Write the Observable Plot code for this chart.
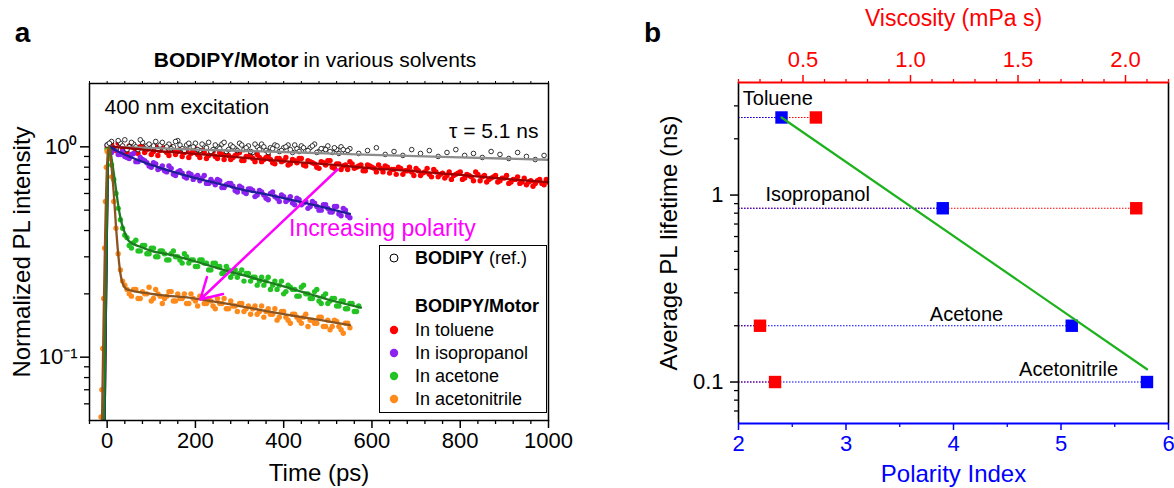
<!DOCTYPE html>
<html><head><meta charset="utf-8">
<script src="https://cdn.jsdelivr.net/npm/d3@7"></script>
<script src="https://cdn.jsdelivr.net/npm/@observablehq/plot@0.6"></script>
<style>
body{margin:0;background:#fff;}
#wrap{position:relative;width:1174px;height:488px;overflow:hidden;font-family:"Liberation Sans",Arial,Helvetica,sans-serif;background:#fff;}
.lg{position:absolute;white-space:nowrap;font-size:18px;line-height:1;transform:translateY(-50%);color:#000;}
</style></head><body><div id="wrap"></div>
<script>
const FONT = '"Liberation Sans", Arial, Helvetica, sans-serif';

// ---------- Panel a data ----------
const timeGrid = [0,10,20,30,40,50,60,70,80,90,100,110,120,130,140,150,160,170,180,190,200,210,220,230,240,250,260,270,280,290,300,310,320,330,340,350,360,370,380,390,400,410,420,430,440,450,460,470,480,490,500,510,520,530,540,550,560,570,580,590,600,610,620,630,640,650,660,670,680,690,700,710,720,730,740,750,760,770,780,790,800,810,820,830,840,850,860,870,880,890,900,910,920,930,940,950,960,970,980,990,1000];
const timeGridHalf = [5,15,25,35,45,55,65,75,85,95,105,115,125,135,145,155,165,175,185,195,205,215,225,235,245,255,265,275,285,295,305,315,325,335,345,355,365,375,385,395,405,415,425,435,445,455,465,475,485,495,505,515,525,535,545,555,565,575,585,595,605,615,625,635,645,655,665,675,685,695,705,715,725,735,745,755,765,775,785,795,805,815,825,835,845,855,865,875,885,895,905,915,925,935,945,955,965,975,985,995];

const tolueneI = [0.99,1.03,0.96,1.02,0.95,1.01,0.99,0.93,1.00,0.97,
 0.92,1.00,0.96,0.99,0.91,0.97,0.95,0.90,0.96,0.93,
 0.98,0.89,0.94,0.91,0.95,0.88,0.92,0.93,0.87,0.91,
 0.94,0.86,0.90,0.88,0.92,0.85,0.89,0.87,0.83,0.88,
 0.86,0.82,0.87,0.84,0.88,0.81,0.85,0.83,0.79,0.84,
 0.86,0.80,0.83,0.78,0.82,0.85,0.79,0.81,0.77,0.82,
 0.80,0.76,0.79,0.81,0.75,0.78,0.80,0.74,0.77,0.76,
 0.79,0.73,0.76,0.74,0.78,0.72,0.75,0.73,0.70,0.74,
 0.76,0.71,0.73,0.69,0.74,0.72,0.68,0.71,0.73,0.69,
 0.71,0.67,0.70,0.72,0.68,0.66,0.69,0.67,0.70,0.66,0.68];
const tolueneI2 = [1.01,0.97,1.04,0.98,0.94,1.02,0.96,1.00,0.94,0.99,
 0.95,0.91,0.98,0.94,1.00,0.92,0.97,0.94,0.89,0.95,
 0.92,0.96,0.88,0.93,0.90,0.94,0.87,0.91,0.89,0.93,
 0.86,0.90,0.92,0.85,0.89,0.87,0.91,0.84,0.88,0.85,
 0.89,0.83,0.86,0.88,0.82,0.86,0.84,0.80,0.85,0.82,
 0.86,0.79,0.83,0.81,0.78,0.83,0.80,0.82,0.77,0.81,
 0.79,0.82,0.76,0.80,0.78,0.74,0.79,0.77,0.80,0.73,
 0.77,0.75,0.79,0.72,0.76,0.74,0.71,0.76,0.73,0.75,
 0.70,0.74,0.72,0.76,0.69,0.73,0.70,0.72,0.68,0.71,
 0.73,0.68,0.70,0.67,0.71,0.68,0.65,0.69,0.67,0.70];
const isopropanolI = [1.02,0.94,0.98,0.92,0.90,0.88,0.93,0.85,0.87,0.84,
 0.80,0.83,0.79,0.77,0.81,0.74,0.76,0.75,0.71,0.74,
 0.72,0.69,0.73,0.67,0.68,0.70,0.64,0.66,0.67,0.62,
 0.65,0.61,0.63,0.62,0.59,0.61,0.57,0.60,0.58,0.55,
 0.58,0.56,0.54,0.57,0.53,0.55,0.52,0.54,0.50,0.53,
 0.51,0.49,0.52,0.47,0.50,0.46];
const isopropanolI2 = [0.99,0.97,0.92,0.95,0.89,0.92,0.85,0.89,0.86,0.81,
 0.84,0.78,0.81,0.76,0.79,0.73,0.77,0.72,0.75,0.70,
 0.73,0.71,0.67,0.70,0.66,0.69,0.64,0.67,0.65,0.61,
 0.64,0.60,0.63,0.58,0.62,0.59,0.56,0.61,0.57,0.59,
 0.55,0.58,0.53,0.56,0.54,0.51,0.55,0.52,0.50,0.53,
 0.49,0.52,0.48,0.51,0.47];
const earlyTime = [0,5,10,15,20,25,30,35,40,45,50];
const acetoneEarlyI = [0.97,0.92,0.82,0.70,0.60,0.51,0.45,0.41,0.38,0.37,0.34];
const acetoneI = [0.35,0.32,0.34,0.31,0.33,0.30,0.32,0.31,0.29,0.32,
 0.30,0.28,0.30,0.29,0.27,0.29,0.28,0.26,0.28,0.27,
 0.25,0.27,0.24,0.26,0.25,0.23,0.25,0.24,0.22,0.24,
 0.23,0.21,0.23,0.22,0.20,0.22,0.21,0.195,0.215,0.20,
 0.19,0.205,0.185,0.195,0.18,0.19,0.175,0.185,0.17,0.18,
 0.165,0.175];
const acetoneI2 = [0.33,0.36,0.32,0.34,0.31,0.33,0.30,0.32,0.29,0.31,
 0.30,0.29,0.31,0.28,0.29,0.27,0.29,0.28,0.26,0.28,
 0.27,0.25,0.26,0.25,0.24,0.26,0.25,0.23,0.24,0.23,
 0.22,0.24,0.22,0.21,0.23,0.205,0.215,0.21,0.195,0.22,
 0.20,0.19,0.21,0.18,0.20,0.185,0.19,0.175,0.185,0.17,
 0.18,0.165];
const acetonitrileEarlyI = [0.95,0.88,0.72,0.55,0.41,0.31,0.26,0.23,0.22,0.21,0.20];
const acetonitrileI = [0.21,0.19,0.205,0.20,0.185,0.21,0.195,0.19,0.205,0.185,
 0.20,0.19,0.18,0.20,0.185,0.195,0.18,0.19,0.175,0.19,
 0.18,0.17,0.185,0.175,0.18,0.165,0.175,0.17,0.16,0.175,
 0.165,0.16,0.17,0.155,0.165,0.15,0.16,0.155,0.145,0.16,
 0.15,0.145,0.155,0.14,0.15,0.14,0.148,0.135,0.145,0.138];
const acetonitrileI2 = [0.195,0.21,0.19,0.20,0.215,0.19,0.20,0.18,0.195,0.205,
 0.185,0.19,0.20,0.18,0.19,0.175,0.195,0.18,0.185,0.17,
 0.18,0.19,0.17,0.175,0.165,0.18,0.17,0.16,0.175,0.165,
 0.155,0.17,0.16,0.15,0.165,0.155,0.145,0.16,0.15,0.155,
 0.14,0.15,0.145,0.155,0.14,0.135,0.15,0.14,0.13,0.145];
const risingTime = [-14,-12,-10,-8,-6,-4,-2];
const acetonitrileRisingI = [0.052,0.07,0.11,0.19,0.33,0.55,0.8];
const bodipyI = [1.02,1.06,0.98,1.04,1.08,1.00,1.03,0.97,1.05,1.01,
 0.99,1.06,1.02,0.96,1.03,1.00,1.07,0.98,1.02,0.99,
 1.04,0.96,1.01,1.05,0.97,1.00,1.03,0.95,1.02,0.98,
 1.04,0.97,1.01,0.94,1.00,1.03,0.96,0.99,1.02,0.95,
 0.99,1.02,0.94,0.98,1.01,0.96,0.99,1.03,0.95,0.98,
 1.01,0.94,0.97,1.00,0.95,0.98];
const bodipyI2 = [1.04,0.99,1.07,1.01,0.97,1.05,1.00,1.08,0.98,1.03,
 1.01,0.97,1.05,1.00,0.98,1.06,1.02,0.96,1.04,1.00,
 0.97,1.03,0.99,0.95,1.02,0.98,1.05,0.97,1.00,0.96,
 1.02,0.99,0.95,1.03,0.97,1.00,0.94,0.98,1.01,0.96,
 1.00,0.97,1.02,0.95,0.99,0.96,1.01,0.94,0.98,0.97,
 0.95,0.99,0.93,0.97,0.96];
const bodipyLateTime = [570,590,610,630,650,670,690,710,730,750,770,790,810,830,850,870,890,910,930,950,970,990];
const bodipyLateI = [0.93,0.96,0.99,0.92,0.95,0.91,0.97,0.93,0.96,0.90,0.94,0.97,0.91,0.93,0.89,0.95,0.92,0.88,0.94,0.90,0.87,0.91];

// fitted curves
const fitBodipyT = [-6,5,200,400,600,800,1000];
const fitBodipyI = [0.045,1.0,0.97,0.945,0.915,0.89,0.868];
const fitTolueneT = [-6,5,100,200,300,400,500,600,700,800,900,1000];
const fitTolueneI = [0.045,1.0,0.96,0.925,0.89,0.855,0.825,0.79,0.765,0.735,0.705,0.68];
const fitIsoT = [-6,5,25,50,100,150,200,250,300,350,400,450,500,550];
const fitIsoI = [0.045,1.0,0.95,0.9,0.82,0.76,0.71,0.67,0.63,0.6,0.57,0.54,0.51,0.48];
const fitAcetoneT = [-7,5,10,15,20,25,30,40,50,75,100,150,200,250,300,350,400,450,500,575];
const fitAcetoneI = [0.045,1.0,0.88,0.75,0.63,0.53,0.46,0.39,0.355,0.335,0.32,0.305,0.285,0.265,0.248,0.232,0.217,0.202,0.188,0.172];
const fitAcnT = [-12,3,10,15,20,25,30,35,45,100,200,300,400,500,550];
const fitAcnI = [0.045,1.0,0.8,0.6,0.42,0.31,0.25,0.225,0.21,0.2,0.19,0.175,0.16,0.148,0.142];

const timeTicks = [0,200,400,600,800,1000];
const timeMinor = [-40,40,80,120,160,240,280,320,360,440,480,520,560,640,680,720,760,840,880,920,960];
const intensityTicks = [0.1, 1];
const intensityMinor = [0.06,0.07,0.08,0.09,0.2,0.3,0.4,0.5,0.6,0.7,0.8,0.9];
const timeDomain = [-40, 1000];
const intensityDomain = [0.05, 2];
const arrowFrom = [522, 0.78];
const arrowTo = [211, 0.188];
const polarityTextPos = [412, 0.41];

// ---------- Panel b data ----------
const solvents = ["Toluene","Isopropanol","Acetone","Acetonitrile"];
const polarityIndex = [2.4, 3.9, 5.1, 5.8];
const viscosity = [0.56, 2.05, 0.30, 0.37];
const lifetimeNs = [2.6, 0.85, 0.20, 0.10];
const labelPolarity = [2.04, 2.25, 3.78, 4.61];
const labelLifetime = [3.3, 1.0, 0.23, 0.116];
const fitPolarity = [2.4, 5.8];
const fitLifetime = [2.6, 0.117];
const polarityDomain = [2, 6];
const viscDomain = [0.2, 2.2];
const lifetimeDomain = [0.06, 4];
const polarityTicks = [2,3,4,5,6];
const polarityMinor = [2.5,3.5,4.5,5.5];
const viscTicks = [0.5,1.0,1.5,2.0];
const viscMinor = [0.2,0.3,0.4,0.6,0.7,0.8,0.9,1.1,1.2,1.3,1.4,1.6,1.7,1.8,1.9,2.1,2.2];
const lifetimeTicks = [0.1, 1];
const lifetimeMinor = [0.07,0.08,0.09,0.2,0.3,0.4,0.5,0.6,0.7,0.8,0.9,2,3];

// colours
const RED="#FF0000", PURPLE="#8B22F0", GREEN="#22C322", ORANGE="#FF8A1C", BLUE="#0000FF", MAGENTA="#FF00FF";
const FIT_RED="#9A0000", FIT_BLUE="#1E1E96", FIT_GREEN="#1E7A1E", FIT_BROWN="#8A5420", FIT_GRAY="#8C8C8C";

const rows = (ts, vs) => ts.map((t, i) => ({t, v: vs[i]}));
const toluene = rows(timeGrid.concat(timeGridHalf), tolueneI.concat(tolueneI2));
const isopropanol = rows(timeGrid.slice(0, 56).concat(timeGridHalf.slice(0, 55)), isopropanolI.concat(isopropanolI2));
const acetone = rows(earlyTime.concat(timeGrid.slice(6, 58), timeGridHalf.slice(5, 57)), acetoneEarlyI.concat(acetoneI, acetoneI2));
const acetonitrile = rows(risingTime.concat(earlyTime, timeGrid.slice(6, 56), timeGridHalf.slice(5, 55)),
  acetonitrileRisingI.concat(acetonitrileEarlyI, acetonitrileI, acetonitrileI2));
const bodipy = rows(timeGrid.slice(0, 56).concat(timeGridHalf.slice(0, 55), bodipyLateTime), bodipyI.concat(bodipyI2, bodipyLateI));

const wrap = document.getElementById("wrap");

const dotOpt = c => ({x: "t", y: "v", r: 2.7, fill: c, clip: true});
const fitOpt = c => ({x: "t", y: "v", stroke: c, strokeWidth: 2.3, curve: "monotone-x", clip: true});
const lab = (txt, o) => Plot.text([txt], Object.assign({text: d => d, lineAnchor: "middle", fill: "black"}, o));

const plotA = Plot.plot({
  width: 580, height: 488,
  marginLeft: 89, marginRight: 32, marginTop: 83, marginBottom: 68,
  x: {domain: timeDomain},
  y: {type: "log", domain: intensityDomain},
  style: {fontFamily: FONT, background: "transparent", overflow: "visible", color: "black"},
  marks: [
    Plot.dot(toluene, dotOpt(RED)),
    Plot.dot(isopropanol, dotOpt(PURPLE)),
    Plot.dot(acetone, dotOpt(GREEN)),
    Plot.dot(acetonitrile, dotOpt(ORANGE)),
    Plot.dot(bodipy, {x: "t", y: "v", r: 2.3, fill: "white", stroke: "black", strokeWidth: 0.8, clip: true}),
    Plot.line(rows(fitBodipyT, fitBodipyI), fitOpt(FIT_GRAY)),
    Plot.line(rows(fitTolueneT, fitTolueneI), fitOpt(FIT_RED)),
    Plot.line(rows(fitIsoT, fitIsoI), fitOpt(FIT_BLUE)),
    Plot.line(rows(fitAcetoneT, fitAcetoneI), fitOpt(FIT_GREEN)),
    Plot.line(rows(fitAcnT, fitAcnI), fitOpt(FIT_BROWN)),
    Plot.arrow([{x1: arrowFrom[0], y1: arrowFrom[1], x2: arrowTo[0], y2: arrowTo[1]}],
      {x1: "x1", y1: "y1", x2: "x2", y2: "y2", stroke: MAGENTA, strokeWidth: 2.5, headLength: 14}),
    Plot.text([{t: polarityTextPos[0], v: polarityTextPos[1], s: "Increasing polarity"}],
      {x: "t", y: "v", text: "s", fill: MAGENTA, fontSize: 23, textAnchor: "start", lineAnchor: "middle"}),
    Plot.frame({stroke: "black", strokeWidth: 1.5}),
    Plot.axisX({ticks: timeTicks, tickSize: 8, tickPadding: 4, fontSize: 22, strokeWidth: 1.5, label: null, tickFormat: d => String(d)}),
    Plot.axisX({ticks: timeMinor, tickSize: 4, strokeWidth: 1.3, label: null, tickFormat: () => ""}),
    Plot.axisX({anchor: "top", ticks: timeTicks.concat(timeMinor), tickSize: 3, strokeWidth: 1, label: null, tickFormat: () => ""}),
    Plot.axisY({ticks: intensityTicks, tickSize: 9, tickPadding: 3, fontSize: 22, strokeWidth: 1.5, label: null, tickFormat: d => d === 1 ? "10\u2070" : "10\u207B\u00B9"}),
    Plot.axisY({ticks: intensityMinor, tickSize: 5, strokeWidth: 1.3, label: null, tickFormat: () => ""}),
    lab("400 nm excitation", {frameAnchor: "top-left", dx: 15, dy: 24, fontSize: 21, textAnchor: "start"}),
    lab("\u03C4 = 5.1 ns", {frameAnchor: "top-right", dx: -10, dy: 48, fontSize: 21, textAnchor: "end"}),
    lab("BODIPY/Motor", {frameAnchor: "top-left", dx: 209, dy: -23, fontSize: 21, fontWeight: "bold", textAnchor: "end"}),
    lab("in various solvents", {frameAnchor: "top-left", dx: 214, dy: -23, fontSize: 21, textAnchor: "start"}),
    lab("a", {frameAnchor: "top-left", dx: -67, dy: -50, fontSize: 28, fontWeight: "bold", textAnchor: "middle"}),
    lab("Time (ps)", {frameAnchor: "bottom", dy: 53, fontSize: 24, textAnchor: "middle"}),
    lab("Normalized PL intensity", {frameAnchor: "left", dx: -67, fontSize: 24, textAnchor: "middle", rotate: -90})
  ]
});
plotA.style.position = "absolute"; plotA.style.left = "0px"; plotA.style.top = "0px";
wrap.appendChild(plotA);

// legend (panel a)
const legend = document.createElement("div");
legend.style.cssText = "position:absolute;left:379px;top:245px;width:168px;height:168px;border:1.3px solid #000;background:#fff;box-sizing:border-box;";
wrap.appendChild(legend);
function legItem(y, html, marker) {
  if (marker) {
    const s = document.createElementNS("http://www.w3.org/2000/svg", "svg");
    s.setAttribute("width", 12); s.setAttribute("height", 12);
    s.style.cssText = `position:absolute;left:${379+15-6}px;top:${y-6}px;overflow:visible`;
    const c = document.createElementNS("http://www.w3.org/2000/svg", "circle");
    c.setAttribute("cx", 6); c.setAttribute("cy", 6); c.setAttribute("r", marker.r);
    c.setAttribute("fill", marker.fill); c.setAttribute("stroke", marker.stroke || "none");
    c.setAttribute("stroke-width", marker.sw || 0);
    s.appendChild(c); wrap.appendChild(s);
  }
  const d = document.createElement("div");
  d.className = "lg"; d.style.left = "415px"; d.style.top = y + "px"; d.innerHTML = html;
  wrap.appendChild(d);
}
const legendLabels = ["In toluene", "In isopropanol", "In acetone", "In acetonitrile"];
const legendColors = [RED, PURPLE, GREEN, ORANGE];
legItem(258, "<b>BODIPY</b> (ref.)", {r: 4, fill: "white", stroke: "black", sw: 1});
legItem(306, "<b>BODIPY/Motor</b>", null);
legendLabels.forEach((l, i) => legItem(330 + i * 23, l, {r: 4.2, fill: legendColors[i]}));

// ---------- Panel b ----------
const viscToX = v => polarityDomain[0] + (v - viscDomain[0]) * (polarityDomain[1] - polarityDomain[0]) / (viscDomain[1] - viscDomain[0]);
const solv = solvents.map((name, i) => ({name, pi: polarityIndex[i], visc: viscosity[i], life: lifetimeNs[i], lx: labelPolarity[i], ly: labelLifetime[i]}));
const fitRows = fitPolarity.map((p, i) => ({p, l: fitLifetime[i]}));

const plotB = Plot.plot({
  width: 584, height: 488,
  marginLeft: 148, marginRight: 6, marginTop: 82, marginBottom: 65,
  x: {domain: polarityDomain},
  y: {type: "log", domain: lifetimeDomain},
  style: {fontFamily: FONT, background: "transparent", overflow: "visible", color: "black"},
  marks: [
    Plot.ruleY(solv, {y: "life", x1: () => polarityDomain[0], x2: d => viscToX(d.visc), stroke: RED, strokeWidth: 1.2, strokeDasharray: "1.5,1.5"}),
    Plot.ruleY(solv, {y: "life", x1: () => polarityDomain[0], x2: "pi", stroke: BLUE, strokeWidth: 1.2, strokeDasharray: "1.5,1.5"}),
    Plot.dot(solv, {x: d => viscToX(d.visc), y: "life", symbol: "square", r: 7, fill: RED}),
    Plot.dot(solv, {x: "pi", y: "life", symbol: "square", r: 7, fill: BLUE}),
    Plot.line(fitRows, {x: "p", y: "l", stroke: "#1DB21D", strokeWidth: 2.2}),
    Plot.text(solv, {x: "lx", y: "ly", text: "name", fontSize: 20, textAnchor: "start", lineAnchor: "middle", fill: "black"}),
    Plot.ruleX([polarityDomain[0]], {stroke: "black", strokeWidth: 1.6}),
    Plot.ruleX([polarityDomain[1]], {stroke: "black", strokeWidth: 1.6}),
    Plot.ruleY([lifetimeDomain[0]], {stroke: BLUE, strokeWidth: 1.8}),
    Plot.ruleY([lifetimeDomain[1]], {stroke: RED, strokeWidth: 1.8}),
    Plot.axisY({ticks: lifetimeTicks, tickSize: 8, tickPadding: 7, fontSize: 22, strokeWidth: 1.5, label: null, tickFormat: d => d === 1 ? "1" : "0.1"}),
    Plot.axisY({ticks: lifetimeMinor, tickSize: 4, strokeWidth: 1.3, label: null, tickFormat: () => ""}),
    Plot.axisX({ticks: polarityTicks, tickSize: 7, tickPadding: 5, fontSize: 22, strokeWidth: 1.5, color: BLUE, label: null, tickFormat: d => String(d)}),
    Plot.axisX({ticks: polarityMinor, tickSize: 4, strokeWidth: 1.3, color: BLUE, label: null, tickFormat: () => ""}),
    Plot.axisX({anchor: "top", ticks: viscTicks.map(viscToX), tickSize: 8, tickPadding: 8, fontSize: 22, strokeWidth: 1.5, color: RED, label: null,
      tickFormat: (x, i) => viscTicks[i].toFixed(1)}),
    Plot.axisX({anchor: "top", ticks: viscMinor.map(viscToX), tickSize: 4, strokeWidth: 1.3, color: RED, label: null, tickFormat: () => ""}),
    lab("Viscosity (mPa s)", {frameAnchor: "top", dy: -64, fontSize: 23, textAnchor: "middle", fill: RED}),
    lab("Polarity Index", {frameAnchor: "bottom", dy: 51, fontSize: 24, textAnchor: "middle", fill: BLUE}),
    lab("Average PL lifetime (ns)", {frameAnchor: "left", dx: -69, dy: -10, fontSize: 24, textAnchor: "middle", rotate: -90}),
    lab("b", {frameAnchor: "top-left", dx: -86, dy: -49, fontSize: 28, fontWeight: "bold", textAnchor: "middle"})
  ]
});
plotB.style.position = "absolute"; plotB.style.left = "590px"; plotB.style.top = "0px";
wrap.appendChild(plotB);
</script></body></html>
